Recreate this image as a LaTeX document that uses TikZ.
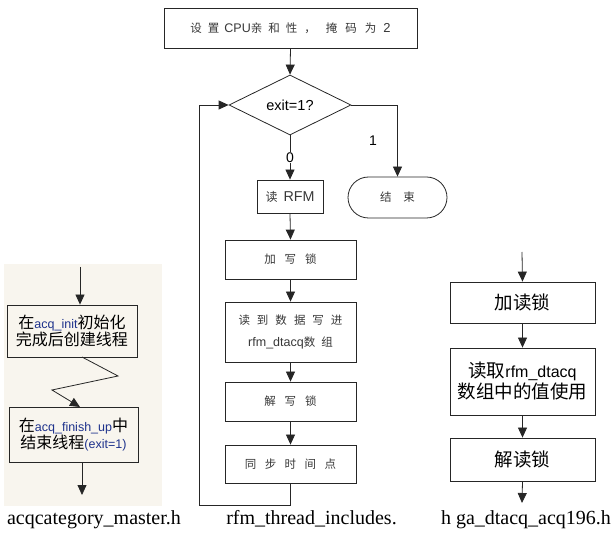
\documentclass[tikz,border=0pt]{standalone}
\usepackage{fontspec}
\setmainfont{Liberation Serif}
\newfontfamily\cjk{Noto Sans CJK SC}
\newfontfamily\ari{Liberation Sans}
\usetikzlibrary{shapes.geometric,shapes.misc,arrows.meta}
\definecolor{panelbg}{RGB}{248,245,238}
\definecolor{txtgray}{RGB}{55,55,55}
\definecolor{codeblue}{RGB}{30,50,140}
\newcommand\gp[1][4]{\hspace{#1pt}}
\newcommand\lat[1]{{\ari\fontsize{12.5}{15}\selectfont #1}}
\begin{document}
\begin{tikzpicture}[x=1pt,y=-1pt,
  box/.style={draw=black!85, line width=0.8pt, inner sep=0pt, align=center},
  mid/.style={box, text=txtgray, font=\cjk\fontsize{11.5}{22}\selectfont},
  lft/.style={box, font=\cjk\fontsize{16}{17}\selectfont},
  rgt/.style={box, font=\cjk\fontsize{18.5}{21}\selectfont},
  arr/.style={draw=black!85, line width=0.8pt, -{Triangle[length=10pt,width=9pt]}},
  lbl/.style={font=\ari\fontsize{14}{15}\selectfont, inner sep=0pt},
  captxt/.style={font=\fontsize{20}{22}\selectfont, inner sep=0pt, anchor=base}]
\useasboundingbox (0,0) rectangle (616,534);
% left panel background
\fill[panelbg] (4,264) rectangle (162,506);

% middle column
\node[mid, minimum width=253pt, minimum height=40pt] (top) at (290.5,28)
  {设\gp[6]置\gp[5]{\ari\fontsize{12.5}{15}\selectfont CPU}亲\gp[6]和\gp[6]性\gp[7]，\gp[10]掩\gp[8]码\gp[8]为\gp[7]{\ari\fontsize{13}{15}\selectfont 2}};
\node[diamond, draw=black!85, line width=0.8pt, inner sep=0pt, minimum width=122pt, minimum height=60pt, font=\ari\fontsize{14.5}{15}\selectfont] (dia) at (290,105) {exit=1?};
\node[mid, font=\cjk\fontsize{12}{15}\selectfont, minimum width=66pt, minimum height=33pt] (rfm) at (290,196.5) {读\gp[6]{\ari\fontsize{14.3}{15}\selectfont RFM}};
\node[rounded rectangle, draw=black!85, line width=0.8pt, inner sep=0pt, minimum width=99pt, minimum height=41pt, text=txtgray, font=\cjk\fontsize{11.5}{15}\selectfont] (end) at (397.5,197.5) {结\gp[12]束};
\node[mid, minimum width=131pt, minimum height=39pt] (wl) at (290.5,259.5) {加\gp[9]写\gp[9]锁};
\node[mid, minimum width=131pt, minimum height=60pt] (wr) at (290.5,332)
  {读\gp[7]到\gp[7]数\gp[7]据\gp[7]写\gp[7]进\\\lat{rfm\_dtacq}数\gp[6]组};
\node[mid, minimum width=131pt, minimum height=39pt] (wu) at (290.5,401.5) {解\gp[9]写\gp[9]锁};
\node[mid, minimum width=131pt, minimum height=38pt] (sy) at (290.5,464) {同\gp[8.5]步\gp[8.5]时\gp[8.5]间\gp[8.5]点};
\coordinate (lb) at (199,505);

\draw[arr] (top.south) -- (dia.north);
\draw[arr] (dia.south) -- (rfm.north) node[lbl, pos=0.5, fill=white, inner sep=1pt] {0};
\draw[arr] (dia.east) -| (end.north);
\node[lbl] at (373,141) {1};
\draw[arr] (rfm.south) -- (wl.north);
\draw[arr] (wl.south) -- (wr.north);
\draw[arr] (wr.south) -- (wu.north);
\draw[arr] (wu.south) -- (sy.north);
\draw[arr] (sy.south) |- (lb) |- (dia.west);

% left column
\node[lft, minimum width=130pt, minimum height=52pt] (l1) at (72,331)
  {在{\ari\fontsize{12.5}{15}\selectfont\color{codeblue}acq\_init}初始化\\完成后创建线程};
\node[lft, minimum width=129pt, minimum height=55pt] (l2) at (73.5,434.5)
  {在{\ari\fontsize{12.5}{15}\selectfont\color{codeblue}acq\_finish\_up}中\\结束线程{\ari\fontsize{12.5}{15}\selectfont\color{codeblue}(exit=1)}};
\coordinate (la) at (80,267);
\coordinate (z1) at (82,357);
\coordinate (z2) at (118,376);
\coordinate (z3) at (52,390);
\coordinate (z4) at (80,407);
\coordinate (lo) at (82,495);
\draw[arr] (la) -- (la |- l1.north);
\draw[arr] (z1) -- (z2) -- (z3) -- (z4);
\draw[arr] (z1 |- l2.south) -- (lo);

% right column
\node[rgt, minimum width=145pt, minimum height=41pt] (r1) at (522.5,302.5) {加读锁};
\node[rgt, minimum width=145pt, minimum height=67pt] (r2) at (522.5,381.5)
  {读取{\ari\fontsize{16}{18}\selectfont rfm\_dtacq}\\数组中的值使用};
\node[rgt, minimum width=145pt, minimum height=43pt] (r3) at (522.5,459.5) {解读锁};
\coordinate (ra) at (522,252);
\coordinate (ro) at (522,503);
\draw[arr] (ra) -- (r1.north);
\draw[arr] (r1.south) -- (r2.north);
\draw[arr] (r2.south) -- (r3.north);
\draw[arr] (r3.south) -- (ro);

% captions
\node[captxt] (c1) at (94,524) {acqcategory\_master.h};
\node[captxt] (c2) at (311.5,524) {rfm\_thread\_includes.};
\node[captxt] (c3) at (526,524) {h ga\_dtacq\_acq196.h};
\end{tikzpicture}
\end{document}
